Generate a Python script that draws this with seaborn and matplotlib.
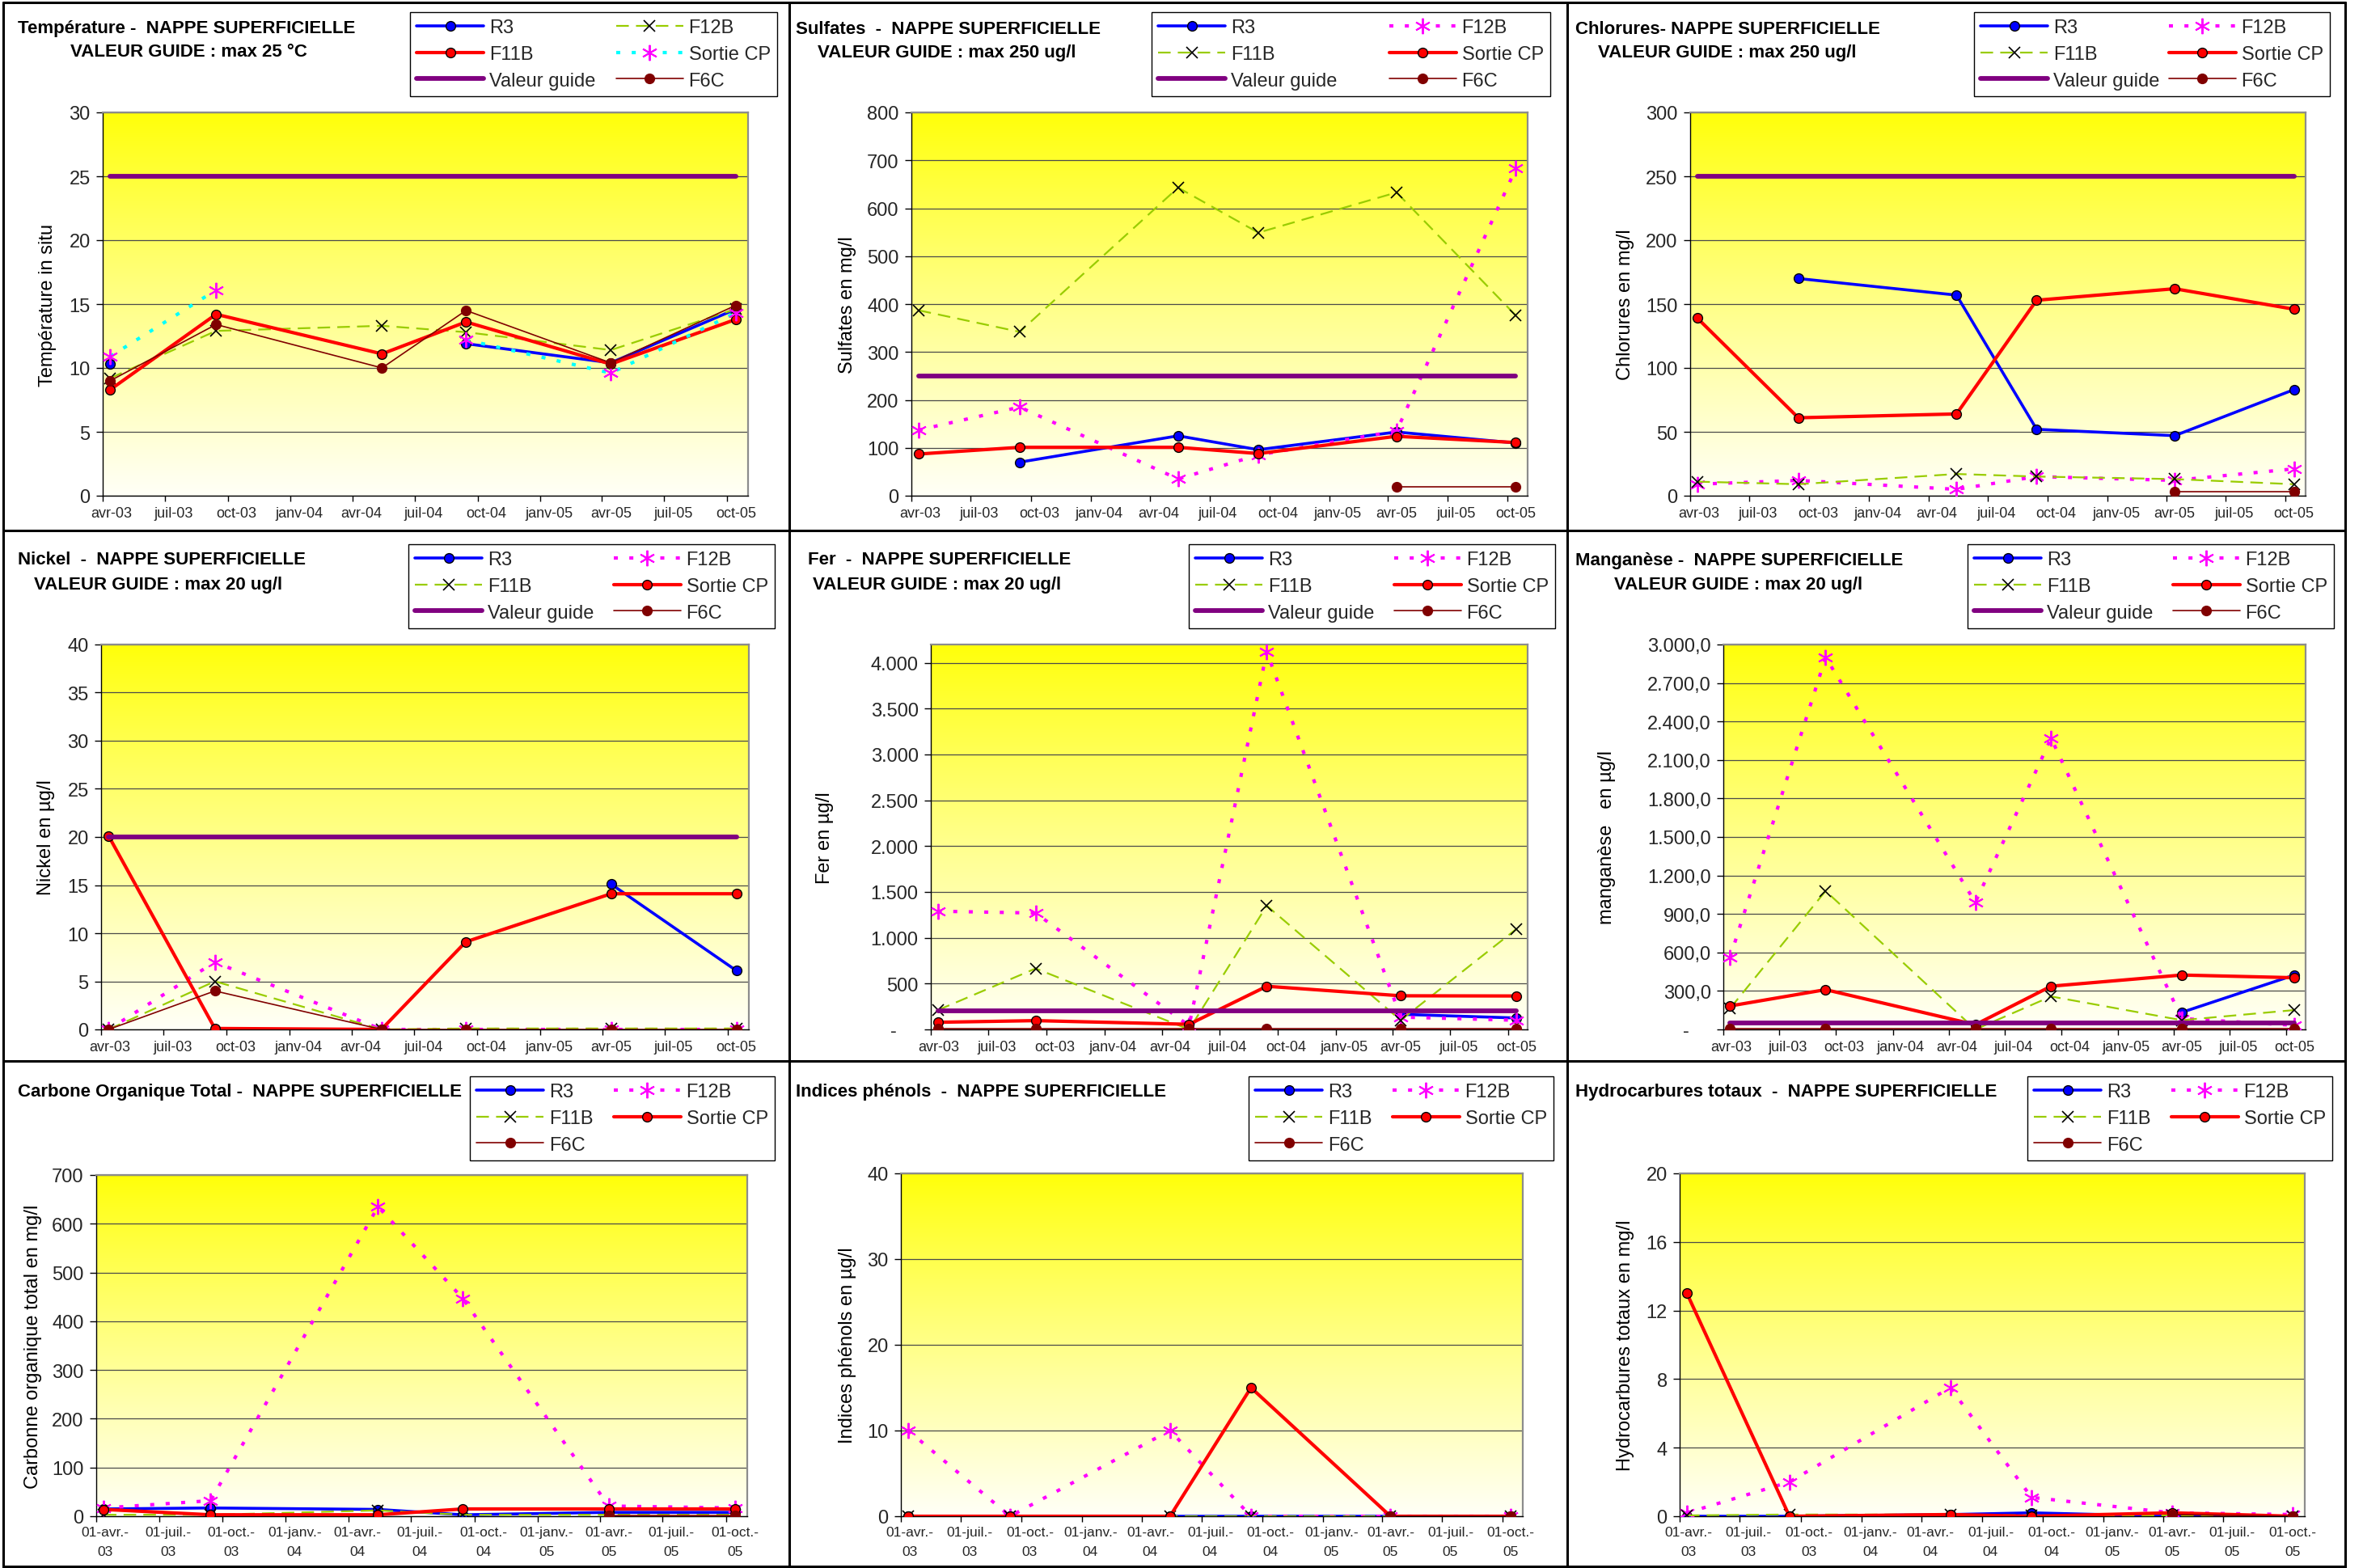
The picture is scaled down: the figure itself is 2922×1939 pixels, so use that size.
import numpy as np
import pandas as pd
import matplotlib
matplotlib.use("Agg")
import matplotlib.pyplot as plt
import matplotlib.dates as mdates
import seaborn as sns
from matplotlib.lines import Line2D

nan = np.nan

# ---------------------------------------------------------------- data
dates = ["2003-04-12", "2003-09-14", "2004-05-14", "2004-09-14", "2005-04-14", "2005-10-14"]

# Température (°C)
temp_R3 = [10.3, nan, nan, 11.9, 10.4, 14.6]
temp_F12B = [9.2, 12.9, 13.3, 12.8, 11.4, 14.6]
temp_F11B = [8.3, 14.2, 11.1, 13.6, 10.3, 13.8]
temp_SortieCP = [10.9, 16.1, nan, 12.2, 9.6, 14.3]
temp_F6C = [9.0, 13.4, 10.0, 14.5, 10.4, 14.9]
temp_guide = [25, 25, 25, 25, 25, 25]

# Sulfates (mg/l)
sulf_R3 = [nan, 70, 125, 96, 133, 110]
sulf_F12B = [137, 185, 35, 85, 135, 683]
sulf_F11B = [387, 342, 643, 549, 633, 376]
sulf_SortieCP = [87, 101, 101, 88, 124, 111]
sulf_F6C = [nan, nan, nan, nan, 19, 19]
sulf_guide = [250, 250, 250, 250, 250, 250]

# Chlorures (mg/l)
chlo_R3 = [nan, 170, 157, 52, 47, 83]
chlo_F12B = [9, 12, 5, 15, 12, 21]
chlo_F11B = [11, 9, 17, 15, 13, 9]
chlo_SortieCP = [139, 61, 64, 153, 162, 146]
chlo_F6C = [nan, nan, nan, nan, 3, 3]
chlo_guide = [250, 250, 250, 250, 250, 250]

# Nickel (µg/l)
nick_R3 = [nan, nan, nan, nan, 15.1, 6.1]
nick_F12B = [0, 7.0, 0, 0, 0, 0]
nick_F11B = [0, 5.0, 0, 0.1, 0.1, 0.1]
nick_SortieCP = [20.1, 0.1, 0, 9.1, 14.1, 14.1]
nick_F6C = [0, 4.0, 0, 0, 0, 0]
nick_guide = [20, 20, 20, 20, 20, 20]

# Fer (µg/l)
fer_R3 = [nan, nan, nan, nan, 165, 125]
fer_F12B = [1290, 1270, 40, 4120, 135, 100]
fer_F11B = [210, 665, 0, 1350, 100, 1095]
fer_SortieCP = [78, 96, 56, 471, 367, 365]
fer_F6C = [5, 5, 5, 5, 5, 5]
fer_guide = [200, 200, 200, 200, 200, 200]

# Manganèse (µg/l)
mang_R3 = [nan, nan, nan, nan, 133, 424]
mang_F12B = [562, 2900, 990, 2270, 85, 32]
mang_F11B = [164, 1079, 0, 257, 72, 151]
mang_SortieCP = [183, 310, 37, 337, 424, 403]
mang_F6C = [5, 5, 5, 5, 5, 5]
mang_guide = [50, 50, 50, 50, 50, 50]

# Carbone organique total (mg/l)
cot_R3 = [15, 17, 14, 3, 8, 8]
cot_F12B = [17, 32, 635, 447, 21, 17]
cot_F11B = [3, 3, 12, 3, 3, 3]
cot_SortieCP = [14, 3, 3, 15, 15, 15]
cot_F6C = [nan, nan, nan, nan, 2, 2]

# Indices phénols (µg/l)
phen_R3 = [0, 0, 0, 0, 0, 0]
phen_F12B = [10, 0, 10, 0, 0, 0]
phen_F11B = [0, 0, 0, 0, 0, 0]
phen_SortieCP = [0, 0, 0, 15, 0, 0]
phen_F6C = [nan, nan, nan, nan, 0, 0]

# Hydrocarbures totaux (mg/l)
hydr_R3 = [0, 0, 0.1, 0.2, 0, 0]
hydr_F12B = [0.2, 2.0, 7.5, 1.1, 0.2, 0.1]
hydr_F11B = [0.05, 0.1, 0.1, 0.05, 0.05, 0]
hydr_SortieCP = [13.0, 0, 0.1, 0, 0.2, 0]
hydr_F6C = [nan, nan, nan, nan, 0.1, 0]

xlabels_top = ["avr-03", "juil-03", "oct-03", "janv-04", "avr-04", "juil-04",
               "oct-04", "janv-05", "avr-05", "juil-05", "oct-05"]
xlabels_bottom = ["01-avr.-\n03", "01-juil.-\n03", "01-oct.-\n03", "01-janv.-\n04",
                  "01-avr.-\n04", "01-juil.-\n04", "01-oct.-\n04", "01-janv.-\n05",
                  "01-avr.-\n05", "01-juil.-\n05", "01-oct.-\n05"]

fer_ticklabels = ["-    ", "500", "1.000", "1.500", "2.000", "2.500", "3.000", "3.500", "4.000"]
mang_ticklabels = ["-    ", "300,0", "600,0", "900,0", "1.200,0", "1.500,0", "1.800,0",
                   "2.100,0", "2.400,0", "2.700,0", "3.000,0"]

# ---------------------------------------------------------------- style
sns.set_theme(style="white")
plt.rcParams["font.family"] = ["Liberation Sans", "DejaVu Sans"]
plt.rcParams["axes.unicode_minus"] = False

W, H, DPI = 2922, 1940, 100
fig = plt.figure(figsize=(W / DPI, H / DPI), dpi=DPI)
fig.patch.set_facecolor("white")

DOT = (0, (1.2, 3.4))
STYLES = {
    "blue": dict(color="#0000FF", linewidth=2.6, linestyle="-", marker="o", markersize=8.5,
                 markerfacecolor="#0000FF", markeredgecolor="black", markeredgewidth=1.0),
    "red": dict(color="#FF0000", linewidth=3.0, linestyle="-", marker="o", markersize=8.5,
                markerfacecolor="#FF0000", markeredgecolor="black", markeredgewidth=1.0),
    "green": dict(color="#99CC00", linewidth=1.6, linestyle=(0, (7, 4)), marker="x", markersize=10,
                  markerfacecolor="black", markeredgecolor="black", markeredgewidth=1.2),
    "magenta": dict(color="#FF00FF", linewidth=3.0, linestyle=DOT, marker=(6, 2, 0), markersize=14,
                    markerfacecolor="#FF00FF", markeredgecolor="#FF00FF", markeredgewidth=1.4),
    "cyan": dict(color="#00FFFF", linewidth=3.0, linestyle=DOT, marker=(6, 2, 0), markersize=14,
                 markerfacecolor="#FF00FF", markeredgecolor="#FF00FF", markeredgewidth=1.4),
    "purple": dict(color="#800080", linewidth=4.2, linestyle="-"),
    "darkred": dict(color="#800000", linewidth=1.2, linestyle="-", marker="o", markersize=8.5,
                    markerfacecolor="#800000", markeredgecolor="#800000", markeredgewidth=1.0),
}


def frac_rect(l, t, r, b):
    return [l / W, 1 - b / H, (r - l) / W, (b - t) / H]


grad = np.linspace(0.0, 1.0, 256)[:, None]
grad_img = np.zeros((256, 1, 3))
grad_img[..., 0] = 1.0
grad_img[..., 1] = 1.0
grad_img[..., 2] = 0.03 + 0.94 * grad[:, :] ** 0.9  # top yellow -> bottom near white

date_index = pd.to_datetime(dates)
quarters = pd.date_range("2003-04-01", "2005-10-01", freq="3MS")


def draw_series(ax, values, style, z):
    df = pd.DataFrame({"date": date_index, "value": values})
    valid = df["value"].notna().values
    df["seg"] = np.cumsum(~valid)
    df = df[valid]
    for _, g in df.groupby("seg"):
        sns.lineplot(data=g, x="date", y="value", ax=ax, legend=False, sort=False,
                     errorbar=None, zorder=z, **STYLES[style])


panels = [
    dict(rect=(127, 140, 925, 614), ylim=30, yticks=list(range(0, 31, 5)), ytl=None,
         ylabel="Température in situ", ylx=59,
         titles=[("Température -  NAPPE SUPERFICIELLE", 22, 36), ("VALEUR GUIDE : max 25 °C", 87, 65)],
         legend=(507, 16, 961, 120), bottom=False,
         series=[("R3", temp_R3, "blue"), ("F12B", temp_F12B, "green"), ("F11B", temp_F11B, "red"),
                 ("Sortie CP", temp_SortieCP, "cyan"), ("Valeur guide", temp_guide, "purple"),
                 ("F6C", temp_F6C, "darkred")]),
    dict(rect=(1127, 140, 1889, 614), ylim=800, yticks=list(range(0, 801, 100)), ytl=None,
         ylabel="Sulfates en mg/l", ylx=1048,
         titles=[("Sulfates  -  NAPPE SUPERFICIELLE", 984, 36), ("VALEUR GUIDE : max 250 ug/l", 1011, 65)],
         legend=(1424, 16, 1917, 120), bottom=False,
         series=[("R3", sulf_R3, "blue"), ("F12B", sulf_F12B, "magenta"), ("F11B", sulf_F11B, "green"),
                 ("Sortie CP", sulf_SortieCP, "red"), ("Valeur guide", sulf_guide, "purple"),
                 ("F6C", sulf_F6C, "darkred")]),
    dict(rect=(2090, 140, 2851, 614), ylim=300, yticks=list(range(0, 301, 50)), ytl=None,
         ylabel="Chlorures en mg/l", ylx=2010,
         titles=[("Chlorures- NAPPE SUPERFICIELLE", 1948, 36), ("VALEUR GUIDE : max 250 ug/l", 1976, 65)],
         legend=(2441, 16, 2881, 124), bottom=False,
         series=[("R3", chlo_R3, "blue"), ("F12B", chlo_F12B, "magenta"), ("F11B", chlo_F11B, "green"),
                 ("Sortie CP", chlo_SortieCP, "red"), ("Valeur guide", chlo_guide, "purple"),
                 ("F6C", chlo_F6C, "darkred")]),
    dict(rect=(125, 798, 926, 1274), ylim=40, yticks=list(range(0, 41, 5)), ytl=None,
         ylabel="Nickel en µg/l", ylx=57,
         titles=[("Nickel  -  NAPPE SUPERFICIELLE", 22, 693), ("VALEUR GUIDE : max 20 ug/l", 42, 724)],
         legend=(505, 674, 958, 778), bottom=False,
         series=[("R3", nick_R3, "blue"), ("F12B", nick_F12B, "magenta"), ("F11B", nick_F11B, "green"),
                 ("Sortie CP", nick_SortieCP, "red"), ("Valeur guide", nick_guide, "purple"),
                 ("F6C", nick_F6C, "darkred")]),
    dict(rect=(1151, 798, 1889, 1274), ylim=4200, yticks=list(range(0, 4001, 500)), ytl=fer_ticklabels,
         ylabel="Fer en µg/l", ylx=1020,
         titles=[("Fer  -  NAPPE SUPERFICIELLE", 999, 693), ("VALEUR GUIDE : max 20 ug/l", 1005, 724)],
         legend=(1470, 674, 1923, 778), bottom=False,
         series=[("R3", fer_R3, "blue"), ("F12B", fer_F12B, "magenta"), ("F11B", fer_F11B, "green"),
                 ("Sortie CP", fer_SortieCP, "red"), ("Valeur guide", fer_guide, "purple"),
                 ("F6C", fer_F6C, "darkred")]),
    dict(rect=(2131, 798, 2851, 1274), ylim=3000, yticks=list(range(0, 3001, 300)), ytl=mang_ticklabels,
         ylabel="manganèse   en µg/l", ylx=1987,
         titles=[("Manganèse -  NAPPE SUPERFICIELLE", 1948, 693), ("VALEUR GUIDE : max 20 ug/l", 1996, 724)],
         legend=(2433, 674, 2886, 778), bottom=False,
         series=[("R3", mang_R3, "blue"), ("F12B", mang_F12B, "magenta"), ("F11B", mang_F11B, "green"),
                 ("Sortie CP", mang_SortieCP, "red"), ("Valeur guide", mang_guide, "purple"),
                 ("F6C", mang_F6C, "darkred")]),
    dict(rect=(119, 1454, 924, 1876), ylim=700, yticks=list(range(0, 701, 100)), ytl=None,
         ylabel="Carbonne organique total en mg/l", ylx=41,
         titles=[("Carbone Organique Total -  NAPPE SUPERFICIELLE", 22, 1351)],
         legend=(581, 1332, 958, 1432), bottom=True,
         series=[("R3", cot_R3, "blue"), ("F12B", cot_F12B, "magenta"), ("F11B", cot_F11B, "green"),
                 ("Sortie CP", cot_SortieCP, "red"), ("F6C", cot_F6C, "darkred")]),
    dict(rect=(1114, 1452, 1883, 1876), ylim=40, yticks=list(range(0, 41, 10)), ytl=None,
         ylabel="Indices phénols en µg/l", ylx=1048,
         titles=[("Indices phénols  -  NAPPE SUPERFICIELLE", 984, 1351)],
         legend=(1544, 1332, 1921, 1432), bottom=True,
         series=[("R3", phen_R3, "blue"), ("F12B", phen_F12B, "magenta"), ("F11B", phen_F11B, "green"),
                 ("Sortie CP", phen_SortieCP, "red"), ("F6C", phen_F6C, "darkred")]),
    dict(rect=(2077, 1452, 2850, 1876), ylim=20, yticks=list(range(0, 21, 4)), ytl=None,
         ylabel="Hydrocarbures totaux en mg/l", ylx=2010,
         titles=[("Hydrocarbures totaux  -  NAPPE SUPERFICIELLE", 1948, 1351)],
         legend=(2507, 1332, 2884, 1432), bottom=True,
         series=[("R3", hydr_R3, "blue"), ("F12B", hydr_F12B, "magenta"), ("F11B", hydr_F11B, "green"),
                 ("Sortie CP", hydr_SortieCP, "red"), ("F6C", hydr_F6C, "darkred")]),
]

for p in panels:
    l, t, r, b = p["rect"]
    bg = fig.add_axes(frac_rect(l, t, r, b), zorder=0)
    bg.imshow(grad_img, aspect="auto", extent=(0, 1, 0, 1), interpolation="bilinear")
    bg.set_axis_off()

    ax = fig.add_axes(frac_rect(l, t, r, b), zorder=1)
    ax.set_facecolor("none")

    for i, (lab, vals, sty) in enumerate(p["series"]):
        draw_series(ax, vals, sty, 3 + i)

    ax.set_xlim(mdates.date2num(pd.Timestamp("2003-04-01")), mdates.date2num(pd.Timestamp("2005-11-01")))
    ax.set_ylim(0, p["ylim"])
    ax.set_xticks(mdates.date2num(quarters))
    ax.set_xticklabels([""] * len(quarters))
    labs = xlabels_bottom if p["bottom"] else xlabels_top
    ax.set_xticks(mdates.date2num(quarters + pd.Timedelta(days=13)), labels=labs, minor=True)
    ax.tick_params(axis="x", which="major", length=5, width=1, direction="out", color="black", bottom=True)
    ax.tick_params(axis="x", which="minor", length=0, pad=9, labelsize=12.5 if p["bottom"] else 13)
    if p["bottom"]:
        for tl in ax.get_xticklabels(minor=True):
            tl.set_linespacing(1.7)

    ax.set_yticks(p["yticks"])
    if p["ytl"] is not None:
        ax.set_yticklabels(p["ytl"])
    ax.tick_params(axis="y", length=6, width=1, direction="out", color="black", pad=5, labelsize=17, left=True)
    ax.grid(axis="y", color="#4a4a4a", linewidth=0.9)
    ax.grid(axis="x", visible=False)
    ax.set_axisbelow(True)

    for side in ("left", "bottom"):
        ax.spines[side].set_color("black")
        ax.spines[side].set_linewidth(1.0)
    for side in ("top", "right"):
        ax.spines[side].set_color("#8c8c8c")
        ax.spines[side].set_linewidth(1.6)
    for s in ax.spines.values():
        s.set_visible(True)

    ax.set_xlabel("")
    ax.set_ylabel(p["ylabel"], fontsize=17, color="black")
    ax.yaxis.set_label_coords((p["ylx"] - l) / (r - l), 0.5)
    ax.yaxis.label.set_va("center")

    for text, tx, ty in p["titles"]:
        fig.text(tx / W, 1 - ty / H, text, fontsize=16, fontweight="bold", ha="left", va="center",
                 color="black")

    # legend (row-major order as in the original)
    handles = []
    for lab, vals, sty in p["series"]:
        handles.append(Line2D([], [], **STYLES[sty]))
    labels = [s[0] for s in p["series"]]
    order = [0, 2, 4, 1, 3] if len(labels) == 5 else [0, 2, 4, 1, 3, 5]
    lx0, ly0, lx1, ly1 = p["legend"]
    leg = ax.legend([handles[i] for i in order], [labels[i] for i in order], ncol=2, loc="upper left",
                    bbox_to_anchor=(lx0 / W, 1 - ly1 / H, (lx1 - lx0) / W, (ly1 - ly0) / H),
                    bbox_transform=fig.transFigure, mode="expand", frameon=True, fancybox=False,
                    edgecolor="black", facecolor="white", framealpha=1, fontsize=17,
                    handlelength=3.5, handletextpad=0.3, borderpad=0.35, labelspacing=0.45,
                    borderaxespad=0, columnspacing=0.6, numpoints=1)
    leg.get_frame().set_linewidth(1.0)
    leg.set_zorder(20)

# panel separators and outer frame
def fline(x0, y0, x1, y1, lw=2.2):
    fig.add_artist(Line2D([x0 / W, x1 / W], [1 - y0 / H, 1 - y1 / H], color="black", linewidth=lw,
                          transform=fig.transFigure, zorder=30))

fline(4, 4, 2900, 4)
fline(4, 4, 4, 1939)
fline(2900, 4, 2900, 1939)
fline(4, 1938, 2900, 1938)
fline(976, 4, 976, 1939)
fline(1938, 4, 1938, 1939)
fline(4, 657, 2900, 657)
fline(4, 1313, 2900, 1313)

fig.savefig("out.png", dpi=DPI, facecolor="white")
